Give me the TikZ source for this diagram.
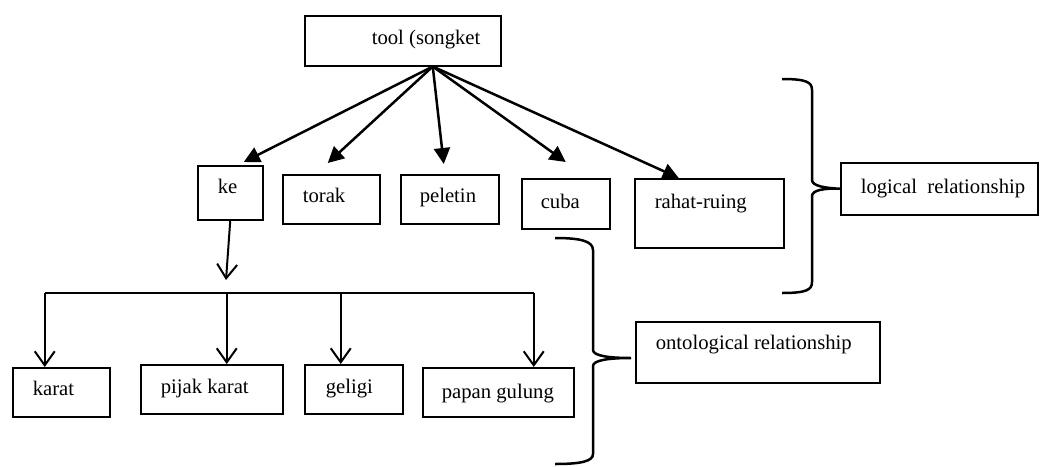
\documentclass[tikz,border=0pt]{standalone}
\usepackage{fontspec}
\setmainfont{Liberation Serif}
\usetikzlibrary{arrows.meta}

\begin{document}
\begin{tikzpicture}[x=1pt,y=-1pt,font=\fontsize{20.7}{24}\selectfont,
  cellbox/.style={draw, line width=1.5pt, anchor=north west, inner sep=0pt,
    align=flush left, text height=14pt, text depth=5pt,
    execute at begin node={\hspace*{#1pt}}},
  toparrow/.style={line width=2.5pt, -{Triangle[length=16pt,width=16pt]}},
  openarrow/.style={line width=2pt, -{Straight Barb[length=14pt,width=20pt]}},
  bracket/.style={line width=2.5pt}]

\useasboundingbox (0,0) rectangle (1040,466);

% draw top level

\node[cellbox=67, text width=196pt, minimum height=50pt, text depth=6pt] (tool) at (304,15) {tool (songket};

\node[cellbox=20, text width=65pt, minimum height=54pt, text depth=12pt] (ke) at (197,165) {ke};
\node[cellbox=20, text width=97pt, minimum height=49pt, text depth=7pt] (torak) at (282,174) {torak};
\node[cellbox=19, text width=98pt, minimum height=49pt, text depth=7pt] (peletin) at (400,174) {peletin};
\node[cellbox=19, text width=88pt, minimum height=50pt, text depth=4pt] (cuba) at (521,178) {cuba};
\node[cellbox=20, text width=149pt, minimum height=69pt, text depth=23pt] (rahat) at (634,178) {rahat-ruing};

\draw[toparrow] ([xshift=30pt]tool.south) -- ([xshift=13.5pt,yshift=3pt]ke.north);
\draw[toparrow] ([xshift=30pt]tool.south) -- ([xshift=-3.5pt,yshift=11pt]torak.north);
\draw[toparrow] ([xshift=30pt]tool.south) -- ([xshift=-6pt,yshift=10pt]peletin.north);
\draw[toparrow] ([xshift=30pt]tool.south) -- ([yshift=16pt]cuba.north);
\draw[toparrow] ([xshift=30pt]tool.south) -- ([xshift=-30.5pt]rahat.north);

% draw parts of ke

\node[cellbox=20, text width=97pt, minimum height=49pt, text depth=7pt] (karat) at (12,367) {karat};
\node[cellbox=20, text width=142pt, minimum height=49pt, text depth=5pt] (pijak) at (140,364) {pijak karat};
\node[cellbox=21, text width=98pt, minimum height=49pt, text depth=5pt] (geligi) at (304,364) {geligi};
\node[cellbox=19, text width=151pt, minimum height=49pt, text depth=1pt] (papan) at (422,367) {papan gulung};

\coordinate (kedrop) at (226,280);
\coordinate (bus) at (226,293);

\draw[openarrow] (ke.south) -- (kedrop);
\draw[line width=2pt] ([xshift=-16.5pt]karat.north |- bus) -- ([xshift=35.5pt]papan.north |- bus);

\foreach \leaf/\dx in {karat/-16.5, pijak/15, geligi/-13, papan/35.5}
{
  \draw[openarrow] ([xshift=\dx pt]\leaf.north |- bus) -- ([xshift=\dx pt]\leaf.north);
}

% draw relationship labels with braces

\node[cellbox=20, text width=197pt, minimum height=52pt, text depth=4pt] (logical) at (840,162) {logical\ \ relationship};
\node[cellbox=20, text width=244pt, minimum height=61pt, text depth=19pt] (onto) at (635,321) {ontological relationship};

\draw[bracket] (782,79) .. controls (806,79) and (812,82) .. (812,90) -- (812,180)
  .. controls (812,186) and (825,188) .. (logical.west)
  .. controls (825,188) and (812,190) .. (812,196) -- (812,282)
  .. controls (812,290) and (806,293) .. (782,293);

\draw[bracket] (555,238) .. controls (580,238) and (593,241) .. (593,250) -- (593,350)
  .. controls (593,356) and (610,358) .. (631,358)
  .. controls (610,358) and (593,360) .. (593,366) -- (593,454)
  .. controls (593,461) and (582,464) .. (555,464);

\end{tikzpicture}
\end{document}
